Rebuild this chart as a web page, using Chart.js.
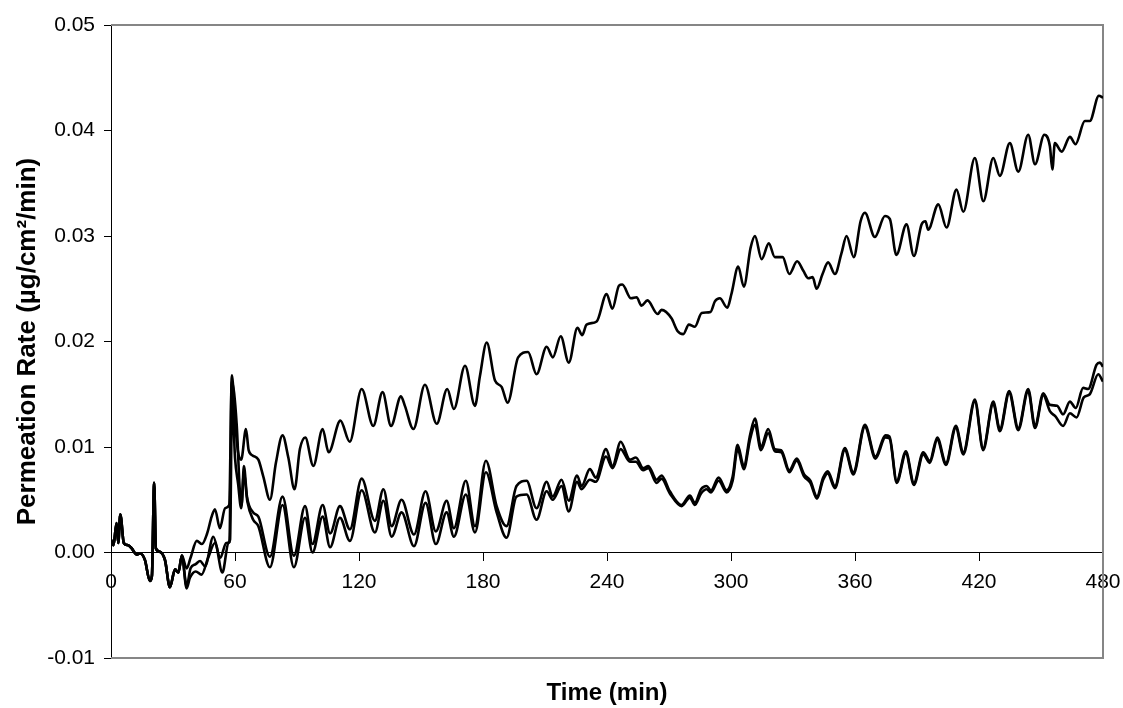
<!DOCTYPE html>
<html>
<head>
<meta charset="utf-8">
<script src="https://cdn.jsdelivr.net/npm/chart.js@4.4.1/dist/chart.umd.min.js"></script>
<style>
  body { margin: 0; background: #fff; }
  canvas { display: block; }
</style>
</head>
<body>
<canvas id="chart" width="1123" height="708"></canvas>
<script>
// Tramo inicial común a las tres curvas (0 - 34 min)
const startTime = [0, 1.2, 2.7, 3.5, 4.5, 6.2, 8, 10, 12.4, 14,
    16.4, 18.8, 19.8, 20.9, 21.7, 23.3, 26.1, 28.5, 31, 32.6,
    34.3];
const startRate = [0.0012, 0.0007, 0.0028, 0.0009, 0.0036, 0.0009, 0.0007, 0.0004, -0.0002, -0.0001,
    -0.0007, -0.0027, -0.0022, 0.0066, 0.0004, 0.0001, -0.0007, -0.0033, -0.0016, -0.0019,
    -0.0003];

// Curva superior
const aTime = [36.6, 38.5, 41.5, 44, 46.5, 48.7, 50.3, 52.7, 55.2, 57.2,
    58.5, 60, 61.5, 63, 65.3, 66.6, 68.5, 71.3, 73.7, 76.9,
    79.8, 83, 85.8, 88.8, 91.4, 94, 97.9, 102.4, 105.3, 111,
    115.5, 121.3, 126.9, 131.4, 135.5, 140.3, 142.2, 146.3, 151.9, 157.6,
    162.7, 165.9, 171.3, 176.1, 178.5, 181.8, 185.8, 189, 191.9, 197,
    201.8, 205.9, 210.8, 213.8, 217.6, 221.5, 225.7, 228, 230.1, 235,
    239.8, 242.6, 245.8, 247.4, 251.6, 254.3, 256.7, 259.6, 264.5, 266.4,
    271.2, 274.1, 276.9, 279.6, 282.5, 285.8, 290.1, 292.2, 294.6, 298.2,
    300.2, 303.5, 306.2, 309.5, 311.6, 314.8, 318.3, 321.2, 325, 328.2,
    332, 335, 337.4, 339.5, 341.4, 344.3, 347, 350.3, 353.5, 355.9,
    359.4, 362.7, 364.8, 369.6, 374.5, 376.9, 380, 384.9, 388.5, 392.2,
    394.1, 395.4, 400.3, 404.3, 409.1, 412.4, 418, 422.1, 426.9, 430.1,
    434.9, 439, 443.8, 447.1, 451.6, 454.3, 455.5, 456.7, 460, 464,
    466.7, 471.2, 473.6, 478, 480];
const aRate = [-0.0015, -0.0005, 0.0011, 0.0008, 0.0018, 0.0034, 0.0041, 0.0023, 0.0042, 0.0045,
    0.0168, 0.0125, 0.0095, 0.0088, 0.0117, 0.0097, 0.0092, 0.0088, 0.0072, 0.005,
    0.0085, 0.0111, 0.009, 0.006, 0.0098, 0.0109, 0.0082, 0.0117, 0.0095, 0.0125,
    0.0105, 0.0155, 0.012, 0.0152, 0.012, 0.0148, 0.0139, 0.0117, 0.0159, 0.0122,
    0.0155, 0.0136, 0.0177, 0.0139, 0.0167, 0.0199, 0.0163, 0.0157, 0.0142, 0.0185,
    0.019, 0.0169, 0.0195, 0.0185, 0.0205, 0.018, 0.0213, 0.0206, 0.0216, 0.0219,
    0.0245, 0.0231, 0.0253, 0.0254, 0.0241, 0.0242, 0.0234, 0.0239, 0.0226, 0.023,
    0.0222, 0.021, 0.0207, 0.0216, 0.0214, 0.0227, 0.0228, 0.0238, 0.0241, 0.0232,
    0.0245, 0.0271, 0.0252, 0.0289, 0.03, 0.0278, 0.0293, 0.028, 0.028, 0.0264,
    0.0276, 0.0267, 0.026, 0.0261, 0.025, 0.0264, 0.0275, 0.0264, 0.0284, 0.03,
    0.028, 0.0314, 0.0322, 0.0299, 0.0319, 0.0316, 0.0282, 0.0311, 0.0281, 0.0311,
    0.0314, 0.0306, 0.033, 0.0308, 0.0344, 0.0323, 0.0374, 0.0333, 0.0374, 0.0357,
    0.0388, 0.0361, 0.0396, 0.0368, 0.0396, 0.0385, 0.0363, 0.0388, 0.038, 0.0394,
    0.0387, 0.0409, 0.0409, 0.0433, 0.0431];

// Curva media
const bTime = [36.6, 38.5, 41, 43.1, 45.5, 49.5, 52.9, 55.7, 57.3, 58.4,
    60.8, 62.3, 63.2, 64.3, 65.8, 68.8, 71.3, 76.9, 83, 88.5,
    93.9, 97.5, 102.4, 106, 110.8, 115.6, 121.3, 127.7, 131.8, 135.8,
    140.6, 146.6, 152.2, 157.2, 162.4, 165.9, 171.7, 176.1, 181.4, 186.6,
    191.4, 196.2, 201.1, 205.9, 210.8, 213.7, 218, 221.5, 225.5, 227.7,
    231.7, 234.6, 239.5, 242.7, 246.6, 251.1, 254, 257.5, 260, 264,
    266.4, 270.4, 276.1, 280.1, 282.5, 285.5, 288.2, 290.3, 294, 297.9,
    300.8, 303.2, 306.2, 309.3, 311.6, 314.5, 318, 321.2, 324.3, 328.2,
    331.8, 335.4, 338.4, 341.6, 344.6, 346.8, 350.3, 355.1, 359.2, 364.8,
    369.9, 374.7, 376.7, 380.2, 384.6, 388.5, 393, 396.2, 399.8, 404,
    408.8, 412.4, 418, 422, 426.9, 430.1, 434.6, 439, 443.8, 447.1,
    451.1, 454.3, 457.8, 460.7, 464, 466.8, 470.4, 472.8, 476.9, 478.5,
    480];
const bRate = [-0.0032, -0.0015, -0.0011, -0.0008, -0.0013, 0.0015, -0.0005, 0.0009, 0.001, 0.0162,
    0.0122, 0.006, 0.0045, 0.0082, 0.0053, 0.0038, 0.0034, -0.0004, 0.0053, -0.0003,
    0.0044, 0.0008, 0.0045, 0.0018, 0.0044, 0.0022, 0.007, 0.003, 0.006, 0.0025,
    0.005, 0.0017, 0.0058, 0.002, 0.0049, 0.0023, 0.0068, 0.0025, 0.0087, 0.0044,
    0.0025, 0.0063, 0.0068, 0.0042, 0.0067, 0.0053, 0.0069, 0.0049, 0.0073, 0.0063,
    0.0079, 0.0071, 0.0098, 0.0082, 0.0105, 0.0088, 0.009, 0.008, 0.0082, 0.0069,
    0.0073, 0.0058, 0.0045, 0.0054, 0.0047, 0.006, 0.0063, 0.0059, 0.0071, 0.0059,
    0.0072, 0.0102, 0.0082, 0.0112, 0.0127, 0.01, 0.0117, 0.0098, 0.0097, 0.0078,
    0.0089, 0.0074, 0.0068, 0.0053, 0.0071, 0.0077, 0.0063, 0.0099, 0.0076, 0.0121,
    0.0091, 0.0111, 0.011, 0.0068, 0.0096, 0.0066, 0.0095, 0.0087, 0.0109, 0.0085,
    0.012, 0.0095, 0.0145, 0.0099, 0.0143, 0.0117, 0.0153, 0.0118, 0.0155, 0.012,
    0.0151, 0.014, 0.0139, 0.0131, 0.0143, 0.0137, 0.0156, 0.0155, 0.0178, 0.018,
    0.0176];

// Curva inferior
const cTime = [36.6, 38.2, 41, 43.8, 47, 50.3, 53.9, 56.8, 57.6, 58.6,
    60, 61.5, 63, 64.3, 66, 68.8, 71.3, 76.9, 83, 88.5,
    93.9, 97.5, 102.4, 106, 110.8, 115.6, 121.3, 127.7, 131.8, 135.8,
    140.6, 146.6, 152.2, 157.2, 162.4, 165.9, 171.7, 176.1, 181.4, 186.6,
    191.4, 196.2, 201.1, 205.9, 210.8, 213.7, 218, 221.5, 225.5, 227.7,
    231.7, 234.6, 239.5, 242.7, 246.6, 251.1, 254, 257.5, 260, 264,
    266.4, 270.4, 276.1, 280.1, 282.5, 285.5, 288.2, 290.3, 294, 297.9,
    300.8, 303.2, 306.2, 309.3, 311.6, 314.5, 318, 321.2, 324.3, 328.2,
    331.8, 335.4, 338.4, 341.6, 344.6, 346.8, 350.3, 355.1, 359.2, 364.8,
    369.9, 374.7, 376.7, 380.2, 384.6, 388.5, 393, 396.2, 399.8, 404,
    408.8, 412.4, 418, 422, 426.9, 430.1, 434.6, 439, 443.8, 447.1,
    451.1, 454.3, 457, 460.7, 464, 467.2, 470.7, 473.6, 477.7, 480];
const cRate = [-0.0034, -0.0024, -0.0018, -0.0021, -0.0005, 0.0009, -0.0019, 0.0009, 0.0012, 0.0148,
    0.009, 0.0065, 0.0042, 0.0075, 0.0048, 0.0031, 0.0025, -0.0014, 0.0045, -0.0014,
    0.0033, 0, 0.0034, 0.0005, 0.0033, 0.0011, 0.0059, 0.0019, 0.0049, 0.0015,
    0.0038, 0.0006, 0.0047, 0.0008, 0.0038, 0.0015, 0.0055, 0.0019, 0.0076, 0.0038,
    0.0014, 0.0053, 0.0055, 0.0031, 0.0058, 0.005, 0.0063, 0.0039, 0.0067, 0.006,
    0.0069, 0.0067, 0.0091, 0.008, 0.0098, 0.0086, 0.0086, 0.0078, 0.008, 0.0066,
    0.007, 0.0056, 0.0044, 0.0052, 0.0045, 0.0056, 0.006, 0.0057, 0.0068, 0.0057,
    0.0068, 0.0098, 0.0079, 0.0108, 0.0121, 0.0097, 0.0113, 0.0096, 0.0095, 0.0076,
    0.0087, 0.0072, 0.0066, 0.0051, 0.0069, 0.0075, 0.0061, 0.0097, 0.0074, 0.0119,
    0.0089, 0.0109, 0.0108, 0.0066, 0.0094, 0.0064, 0.0093, 0.0085, 0.0107, 0.0083,
    0.0118, 0.0093, 0.0143, 0.0097, 0.0141, 0.0115, 0.0151, 0.0116, 0.0153, 0.0118,
    0.0149, 0.0134, 0.0129, 0.012, 0.0132, 0.0128, 0.0147, 0.015, 0.0169, 0.0162];

const xTitle = 'Time (min)';
const yTitle = 'Permeation Rate (µg/cm²/min)';

function toPoints(times, rates) {
    const all = startTime.concat(times);
    const vals = startRate.concat(rates);
    return all.map((t, i) => ({ x: t, y: vals[i] }));
}

function makeDataset(times, rates) {
    return {
        data: toPoints(times, rates),
        borderColor: '#000',
        borderWidth: 2.6,
        pointRadius: 0,
        fill: false,
        cubicInterpolationMode: 'monotone'
    };
}

// Marco gris del área del gráfico (arriba, derecha, abajo)
const frame = {
    id: 'frame',
    beforeDatasetsDraw(chart) {
        const { ctx, chartArea: a } = chart;
        ctx.save();
        ctx.strokeStyle = '#868686';
        ctx.lineWidth = 2;
        ctx.beginPath();
        ctx.moveTo(a.left, a.top);
        ctx.lineTo(a.right, a.top);
        ctx.lineTo(a.right, a.bottom);
        ctx.lineTo(a.left, a.bottom);
        ctx.stroke();
        ctx.restore();
    }
};

Chart.defaults.font.family = "'Liberation Sans', Arial, sans-serif";
Chart.defaults.color = '#000';

const ctx = document.getElementById('chart').getContext('2d');
new Chart(ctx, {
    type: 'line',
    data: {
        datasets: [
            makeDataset(aTime, aRate),
            makeDataset(bTime, bRate),
            makeDataset(cTime, cRate)
        ]
    },
    options: {
        responsive: false,
        animation: false,
        devicePixelRatio: 1,
        layout: { padding: { top: 25, right: 20, bottom: 0, left: 0 } },
        plugins: { legend: { display: false }, tooltip: { enabled: false } },
        scales: {
            x: {
                type: 'linear',
                position: { y: 0 },
                min: 0,
                max: 480,
                ticks: { stepSize: 60, font: { size: 21 }, padding: 9, maxRotation: 0 },
                grid: { drawOnChartArea: false, tickLength: 8, color: '#000' },
                border: { color: '#000', width: 1 },
                // las etiquetas de los extremos no deben encoger el área
                afterFit(scale) { scale.paddingLeft = 0; scale.paddingRight = 0; }
            },
            x2: {
                type: 'linear',
                position: 'bottom',
                min: 0,
                max: 480,
                ticks: { display: false },
                grid: { display: false },
                border: { display: false },
                title: { display: true, text: xTitle, font: { size: 24, weight: 'bold' }, padding: 0 },
                afterFit(scale) { scale.height = 50; }
            },
            y: {
                type: 'linear',
                min: -0.01,
                max: 0.05,
                ticks: {
                    stepSize: 0.01,
                    font: { size: 21 },
                    padding: 9,
                    callback: v => v.toFixed(2)
                },
                grid: { drawOnChartArea: false, tickLength: 7, color: '#000' },
                border: { color: '#000', width: 1 },
                title: { display: true, text: yTitle, font: { size: 26, weight: 'bold' }, padding: { top: 12, bottom: 0 } },
                afterFit(scale) { scale.width = 111; }
            }
        }
    },
    plugins: [frame]
});
</script>
</body>
</html>
